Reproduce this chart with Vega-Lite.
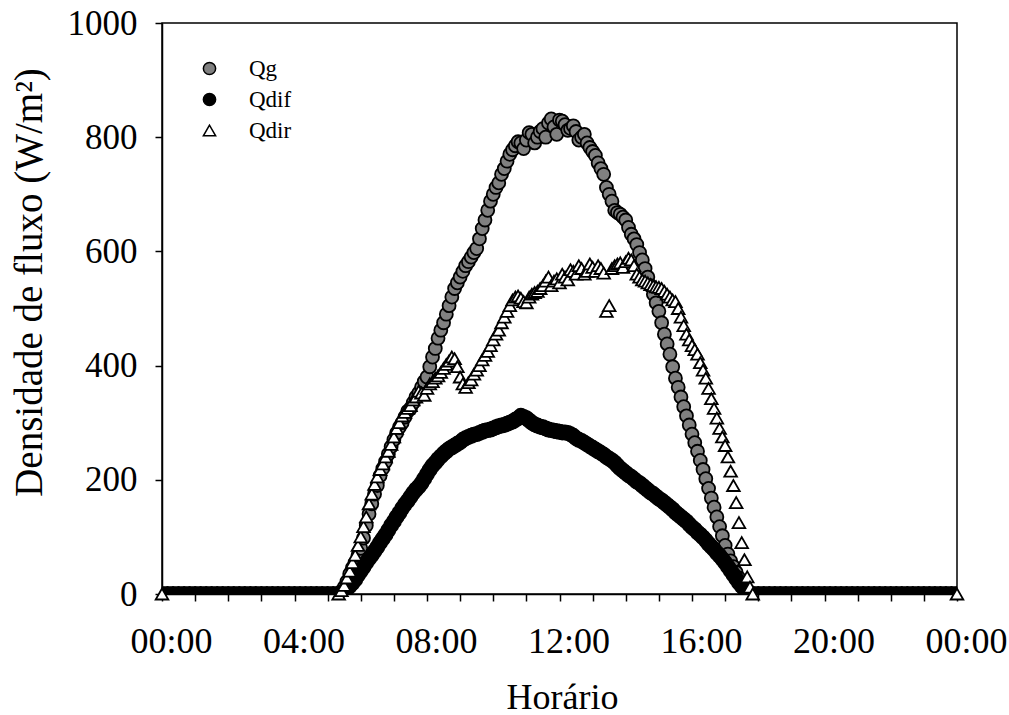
{
  "$schema": "https://vega.github.io/schema/vega-lite/v6.json",
  "width": 795,
  "height": 571,
  "autosize": {"type": "none"},
  "padding": {"left": 162, "top": 23, "right": 52, "bottom": 121},
  "background": "white",
  "config": {"view": {"stroke": "black", "strokeWidth": 1.5}, "font": "Liberation Serif"},
  "data": {"values": [
    {"t":0,"Qg":0,"Qdif":0,"Qdir":0},{"t":10,"Qg":0,"Qdif":0},{"t":20,"Qg":0,"Qdif":0},{"t":30,"Qg":0,"Qdif":0},{"t":40,"Qg":0,"Qdif":0},{"t":50,"Qg":0,"Qdif":0},{"t":60,"Qg":0,"Qdif":0},{"t":70,"Qg":0,"Qdif":0},{"t":80,"Qg":0,"Qdif":0},{"t":90,"Qg":0,"Qdif":0},{"t":100,"Qg":0,"Qdif":0},{"t":110,"Qg":0,"Qdif":0},{"t":120,"Qg":0,"Qdif":0},{"t":130,"Qg":0,"Qdif":0},{"t":140,"Qg":0,"Qdif":0},{"t":150,"Qg":0,"Qdif":0},{"t":160,"Qg":0,"Qdif":0},{"t":170,"Qg":0,"Qdif":0},{"t":180,"Qg":0,"Qdif":0},{"t":190,"Qg":0,"Qdif":0},{"t":200,"Qg":0,"Qdif":0},{"t":210,"Qg":0,"Qdif":0},{"t":220,"Qg":0,"Qdif":0},{"t":230,"Qg":0,"Qdif":0},{"t":240,"Qg":0,"Qdif":0},{"t":250,"Qg":0,"Qdif":0},{"t":260,"Qg":0,"Qdif":0},{"t":270,"Qg":0,"Qdif":0},{"t":280,"Qg":0,"Qdif":0},{"t":290,"Qg":0,"Qdif":0},{"t":300,"Qg":0,"Qdif":0},{"t":310,"Qg":0,"Qdif":0},
    {"t":320,"Qg":0,"Qdif":0,"Qdir":0},
    {"t":325,"Qg":5,"Qdif":2,"Qdir":6},
    {"t":330,"Qg":12,"Qdif":5,"Qdir":15},
    {"t":335,"Qg":22,"Qdif":9,"Qdir":28},
    {"t":340,"Qg":35,"Qdif":14,"Qdir":40},
    {"t":345,"Qg":46,"Qdif":19,"Qdir":55},
    {"t":350,"Qg":55,"Qdif":25,"Qdir":68},
    {"t":355,"Qg":68,"Qdif":33,"Qdir":85},
    {"t":360,"Qg":80,"Qdif":40,"Qdir":100},
    {"t":365,"Qg":98,"Qdif":47,"Qdir":118},
    {"t":370,"Qg":120,"Qdif":55,"Qdir":135},
    {"t":375,"Qg":140,"Qdif":62,"Qdir":158},
    {"t":380,"Qg":158,"Qdif":68,"Qdir":175},
    {"t":385,"Qg":175,"Qdif":75,"Qdir":192},
    {"t":390,"Qg":190,"Qdif":82,"Qdir":205},
    {"t":395,"Qg":207,"Qdif":90,"Qdir":218},
    {"t":400,"Qg":220,"Qdif":97,"Qdir":228},
    {"t":405,"Qg":232,"Qdif":104,"Qdir":240},
    {"t":410,"Qg":245,"Qdif":112,"Qdir":250},
    {"t":415,"Qg":258,"Qdif":120,"Qdir":262},
    {"t":420,"Qg":270,"Qdif":127,"Qdir":275},
    {"t":425,"Qg":282,"Qdif":135,"Qdir":290},
    {"t":430,"Qg":292,"Qdif":142,"Qdir":300},
    {"t":435,"Qg":300,"Qdif":150,"Qdir":312},
    {"t":440,"Qg":310,"Qdif":157,"Qdir":318},
    {"t":445,"Qg":320,"Qdif":163,"Qdir":325},
    {"t":450,"Qg":325,"Qdif":170,"Qdir":330},
    {"t":455,"Qg":335,"Qdif":177,"Qdir":340},
    {"t":460,"Qg":345,"Qdif":183,"Qdir":345},
    {"t":465,"Qg":352,"Qdif":188,"Qdir":355},
    {"t":470,"Qg":362,"Qdif":194,"Qdir":352},
    {"t":475,"Qg":372,"Qdif":202,"Qdir":348},
    {"t":480,"Qg":380,"Qdif":210,"Qdir":360},
    {"t":485,"Qg":398,"Qdif":218,"Qdir":368},
    {"t":490,"Qg":415,"Qdif":225,"Qdir":372},
    {"t":495,"Qg":430,"Qdif":230,"Qdir":378},
    {"t":500,"Qg":448,"Qdif":236,"Qdir":382},
    {"t":505,"Qg":462,"Qdif":241,"Qdir":388},
    {"t":510,"Qg":475,"Qdif":246,"Qdir":395},
    {"t":515,"Qg":490,"Qdif":250,"Qdir":402},
    {"t":520,"Qg":505,"Qdif":254,"Qdir":408},
    {"t":525,"Qg":520,"Qdif":257,"Qdir":415},
    {"t":530,"Qg":535,"Qdif":260,"Qdir":412},
    {"t":535,"Qg":545,"Qdif":263,"Qdir":398},
    {"t":540,"Qg":555,"Qdif":266,"Qdir":380},
    {"t":545,"Qg":565,"Qdif":270,"Qdir":368},
    {"t":550,"Qg":575,"Qdif":273,"Qdir":362},
    {"t":555,"Qg":582,"Qdif":275,"Qdir":370},
    {"t":560,"Qg":590,"Qdif":277,"Qdir":375},
    {"t":565,"Qg":598,"Qdif":279,"Qdir":385},
    {"t":570,"Qg":605,"Qdif":280,"Qdir":392},
    {"t":575,"Qg":622,"Qdif":282,"Qdir":400},
    {"t":580,"Qg":640,"Qdif":284,"Qdir":410},
    {"t":585,"Qg":655,"Qdif":286,"Qdir":418},
    {"t":590,"Qg":672,"Qdif":287,"Qdir":425},
    {"t":595,"Qg":688,"Qdif":288,"Qdir":435},
    {"t":600,"Qg":700,"Qdif":290,"Qdir":445},
    {"t":605,"Qg":712,"Qdif":292,"Qdir":455},
    {"t":610,"Qg":720,"Qdif":294,"Qdir":462},
    {"t":615,"Qg":735,"Qdif":295,"Qdir":475},
    {"t":620,"Qg":745,"Qdif":296,"Qdir":485},
    {"t":625,"Qg":758,"Qdif":298,"Qdir":495},
    {"t":630,"Qg":770,"Qdif":300,"Qdir":505},
    {"t":635,"Qg":778,"Qdif":302,"Qdir":515},
    {"t":640,"Qg":785,"Qdif":305,"Qdir":520},
    {"t":645,"Qg":792,"Qdif":308,"Qdir":522},
    {"t":650,"Qg":790,"Qdif":312,"Qdir":518},
    {"t":655,"Qg":780,"Qdif":310,"Qdir":512},
    {"t":660,"Qg":795,"Qdif":308,"Qdir":510},
    {"t":665,"Qg":808,"Qdif":304,"Qdir":520},
    {"t":670,"Qg":805,"Qdif":300,"Qdir":525},
    {"t":675,"Qg":790,"Qdif":297,"Qdir":528},
    {"t":680,"Qg":800,"Qdif":295,"Qdir":530},
    {"t":685,"Qg":810,"Qdif":293,"Qdir":535},
    {"t":690,"Qg":815,"Qdif":292,"Qdir":540},
    {"t":695,"Qg":800,"Qdif":290,"Qdir":548},
    {"t":700,"Qg":825,"Qdif":288,"Qdir":555},
    {"t":705,"Qg":832,"Qdif":287,"Qdir":540},
    {"t":710,"Qg":818,"Qdif":286,"Qdir":548},
    {"t":715,"Qg":805,"Qdif":285,"Qdir":552},
    {"t":720,"Qg":830,"Qdif":284,"Qdir":545},
    {"t":725,"Qg":828,"Qdif":283,"Qdir":560},
    {"t":730,"Qg":822,"Qdif":283,"Qdir":555},
    {"t":735,"Qg":812,"Qdif":282,"Qdir":550},
    {"t":740,"Qg":815,"Qdif":280,"Qdir":568},
    {"t":745,"Qg":820,"Qdif":277,"Qdir":565},
    {"t":750,"Qg":810,"Qdif":273,"Qdir":560},
    {"t":755,"Qg":795,"Qdif":270,"Qdir":575},
    {"t":760,"Qg":800,"Qdif":268,"Qdir":570},
    {"t":765,"Qg":805,"Qdif":265,"Qdir":560},
    {"t":770,"Qg":790,"Qdif":262,"Qdir":565},
    {"t":775,"Qg":782,"Qdif":259,"Qdir":578},
    {"t":780,"Qg":775,"Qdif":256,"Qdir":572},
    {"t":785,"Qg":768,"Qdif":253,"Qdir":565},
    {"t":790,"Qg":755,"Qdif":250,"Qdir":575},
    {"t":795,"Qg":745,"Qdif":247,"Qdir":570},
    {"t":800,"Qg":735,"Qdif":244,"Qdir":562},
    {"t":805,"Qg":712,"Qdif":240,"Qdir":495},
    {"t":810,"Qg":700,"Qdif":237,"Qdir":505},
    {"t":815,"Qg":688,"Qdif":234,"Qdir":570},
    {"t":820,"Qg":672,"Qdif":230,"Qdir":575},
    {"t":825,"Qg":668,"Qdif":225,"Qdir":578},
    {"t":830,"Qg":665,"Qdif":220,"Qdir":580},
    {"t":835,"Qg":660,"Qdif":216,"Qdir":572},
    {"t":840,"Qg":655,"Qdif":212,"Qdir":582},
    {"t":845,"Qg":642,"Qdif":208,"Qdir":588},
    {"t":850,"Qg":630,"Qdif":205,"Qdir":585},
    {"t":855,"Qg":622,"Qdif":201,"Qdir":575},
    {"t":860,"Qg":612,"Qdif":197,"Qdir":560},
    {"t":865,"Qg":598,"Qdif":194,"Qdir":555},
    {"t":870,"Qg":585,"Qdif":190,"Qdir":550},
    {"t":875,"Qg":570,"Qdif":186,"Qdir":548},
    {"t":880,"Qg":555,"Qdif":182,"Qdir":545},
    {"t":885,"Qg":540,"Qdif":178,"Qdir":542},
    {"t":890,"Qg":525,"Qdif":175,"Qdir":540},
    {"t":895,"Qg":510,"Qdif":171,"Qdir":538},
    {"t":900,"Qg":495,"Qdif":167,"Qdir":537},
    {"t":905,"Qg":475,"Qdif":164,"Qdir":535},
    {"t":910,"Qg":455,"Qdif":160,"Qdir":530},
    {"t":915,"Qg":438,"Qdif":156,"Qdir":525},
    {"t":920,"Qg":420,"Qdif":152,"Qdir":520},
    {"t":925,"Qg":398,"Qdif":148,"Qdir":515},
    {"t":930,"Qg":378,"Qdif":143,"Qdir":512},
    {"t":935,"Qg":362,"Qdif":139,"Qdir":500},
    {"t":940,"Qg":345,"Qdif":135,"Qdir":485},
    {"t":945,"Qg":328,"Qdif":131,"Qdir":470},
    {"t":950,"Qg":312,"Qdif":127,"Qdir":455},
    {"t":955,"Qg":296,"Qdif":122,"Qdir":445},
    {"t":960,"Qg":280,"Qdif":117,"Qdir":435},
    {"t":965,"Qg":265,"Qdif":113,"Qdir":428},
    {"t":970,"Qg":250,"Qdif":108,"Qdir":420},
    {"t":975,"Qg":234,"Qdif":104,"Qdir":405},
    {"t":980,"Qg":218,"Qdif":99,"Qdir":392},
    {"t":985,"Qg":202,"Qdif":94,"Qdir":378},
    {"t":990,"Qg":185,"Qdif":88,"Qdir":360},
    {"t":995,"Qg":168,"Qdif":83,"Qdir":342},
    {"t":1000,"Qg":152,"Qdif":78,"Qdir":325},
    {"t":1005,"Qg":135,"Qdif":72,"Qdir":308},
    {"t":1010,"Qg":118,"Qdif":67,"Qdir":290},
    {"t":1015,"Qg":102,"Qdif":61,"Qdir":275},
    {"t":1020,"Qg":85,"Qdif":55,"Qdir":260},
    {"t":1025,"Qg":70,"Qdif":48,"Qdir":240},
    {"t":1030,"Qg":58,"Qdif":41,"Qdir":215},
    {"t":1035,"Qg":48,"Qdif":34,"Qdir":190},
    {"t":1040,"Qg":38,"Qdif":27,"Qdir":160},
    {"t":1045,"Qg":28,"Qdif":20,"Qdir":125},
    {"t":1050,"Qg":20,"Qdif":14,"Qdir":90},
    {"t":1055,"Qg":12,"Qdif":9,"Qdir":60},
    {"t":1060,"Qg":6,"Qdif":5,"Qdir":30},
    {"t":1065,"Qg":2,"Qdif":2,"Qdir":12},
    {"t":1070,"Qg":0,"Qdif":0,"Qdir":0},
    {"t":1080,"Qg":0,"Qdif":0},{"t":1090,"Qg":0,"Qdif":0},{"t":1100,"Qg":0,"Qdif":0},{"t":1110,"Qg":0,"Qdif":0},{"t":1120,"Qg":0,"Qdif":0},{"t":1130,"Qg":0,"Qdif":0},{"t":1140,"Qg":0,"Qdif":0},{"t":1150,"Qg":0,"Qdif":0},{"t":1160,"Qg":0,"Qdif":0},{"t":1170,"Qg":0,"Qdif":0},{"t":1180,"Qg":0,"Qdif":0},{"t":1190,"Qg":0,"Qdif":0},{"t":1200,"Qg":0,"Qdif":0},{"t":1210,"Qg":0,"Qdif":0},{"t":1220,"Qg":0,"Qdif":0},{"t":1230,"Qg":0,"Qdif":0},{"t":1240,"Qg":0,"Qdif":0},{"t":1250,"Qg":0,"Qdif":0},{"t":1260,"Qg":0,"Qdif":0},{"t":1270,"Qg":0,"Qdif":0},{"t":1280,"Qg":0,"Qdif":0},{"t":1290,"Qg":0,"Qdif":0},{"t":1300,"Qg":0,"Qdif":0},{"t":1310,"Qg":0,"Qdif":0},{"t":1320,"Qg":0,"Qdif":0},{"t":1330,"Qg":0,"Qdif":0},{"t":1340,"Qg":0,"Qdif":0},{"t":1350,"Qg":0,"Qdif":0},{"t":1360,"Qg":0,"Qdif":0},{"t":1370,"Qg":0,"Qdif":0},{"t":1380,"Qg":0,"Qdif":0},{"t":1390,"Qg":0,"Qdif":0},{"t":1400,"Qg":0,"Qdif":0},{"t":1410,"Qg":0,"Qdif":0},{"t":1420,"Qg":0,"Qdif":0},{"t":1430,"Qg":0,"Qdif":0},{"t":1440,"Qg":0,"Qdif":0,"Qdir":0}
  ]},
  "encoding": {
    "x": {"field": "t", "type": "quantitative",
      "scale": {"domain": [0, 1440], "nice": false, "zero": false},
      "axis": {"values": [0,60,120,180,240,300,360,420,480,540,600,660,720,780,840,900,960,1020,1080,1140,1200,1260,1320,1380,1440],
        "labelExpr": "datum.value % 240 == 0 ? ((floor(datum.value/60) % 24) < 10 ? '0' : '') + (floor(datum.value/60) % 24) + ':00' : ''",
        "grid": false, "tickSize": 7, "tickColor": "black", "tickWidth": 1.5,
        "domainColor": "black", "domainWidth": 1.5,
        "labelFont": "Liberation Serif", "labelFontSize": 36, "labelColor": "black",
        "labelPadding": 51, "labelBaseline": "alphabetic", "labelOffset": 9,
        "labelOverlap": false, "labelFlush": false, "labelBound": false,
        "title": "Horário", "titleFont": "Liberation Serif", "titleFontSize": 36, "titleFontWeight": "normal",
        "titleColor": "black", "titleBaseline": "alphabetic", "titleY": 114, "titleX": 400}},
    "y": {"field": "v", "type": "quantitative",
      "scale": {"domain": [0, 1000], "nice": false},
      "axis": {"values": [0,200,400,600,800,1000], "format": "d",
        "grid": false, "tickSize": 7, "tickColor": "black", "tickWidth": 1.5,
        "domainColor": "black", "domainWidth": 1.5,
        "labelFont": "Liberation Serif", "labelFontSize": 35, "labelColor": "black",
        "labelPadding": 18, "labelBound": false, "labelOverlap": false, "labelFlush": false,
        "title": "Densidade de fluxo (W/m²)", "titleFont": "Liberation Serif", "titleFontSize": 39,
        "titleFontWeight": "normal", "titleColor": "black", "titleAngle": -90,
        "titleBaseline": "middle", "titleX": -133, "titleY": 259}},
    "fill": {"field": "k", "type": "nominal",
      "scale": {"domain": ["Qg", "Qdif", "Qdir"], "range": ["#808080", "#000000", "#ffffff"]},
      "legend": {"title": null, "orient": "none", "legendX": 36, "legendY": 34, "padding": 0,
        "labelFont": "Liberation Serif", "labelFontSize": 23, "labelColor": "black",
        "symbolSize": 150, "symbolStrokeColor": "black", "symbolStrokeWidth": 1.5, "symbolOpacity": 1,
        "rowPadding": 7, "labelOffset": 28,
        "encode": {"symbols": {"update": {"stroke": {"value": "black"}, "strokeWidth": {"value": 1.5}}}}}},
    "shape": {"field": "k", "type": "nominal",
      "scale": {"domain": ["Qg", "Qdif", "Qdir"], "range": ["circle", "circle", "triangle-up"]},
      "legend": {"title": null, "orient": "none", "legendX": 36, "legendY": 34, "padding": 0,
        "labelFont": "Liberation Serif", "labelFontSize": 23, "labelColor": "black",
        "symbolSize": 150, "symbolStrokeColor": "black", "symbolStrokeWidth": 1.5, "symbolOpacity": 1,
        "rowPadding": 7, "labelOffset": 28,
        "encode": {"symbols": {"update": {"stroke": {"value": "black"}, "strokeWidth": {"value": 1.5}}}}}}
  },
  "layer": [
    {"transform": [{"fold": ["Qg"], "as": ["k", "v"]}, {"filter": "isValid(datum.v)"}],
     "mark": {"type": "point", "filled": true, "stroke": "black", "strokeWidth": 1.8, "size": 169, "opacity": 1, "clip": true}},
    {"transform": [{"fold": ["Qdif"], "as": ["k", "v"]}, {"filter": "isValid(datum.v)"}],
     "mark": {"type": "point", "filled": true, "stroke": "black", "strokeWidth": 1.8, "size": 200, "opacity": 1, "clip": true}},
    {"transform": [{"fold": ["Qdir"], "as": ["k", "v"]}, {"filter": "isValid(datum.v)"}],
     "mark": {"type": "point", "filled": true, "stroke": "black", "strokeWidth": 1.8, "size": 160, "opacity": 1}}
  ]
}
